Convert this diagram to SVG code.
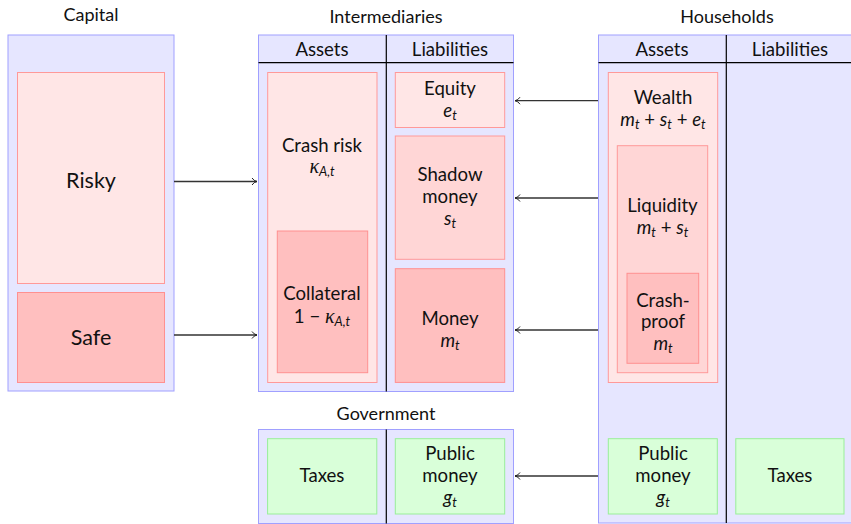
<svg xmlns="http://www.w3.org/2000/svg" width="851" height="524" viewBox="0 0 851 524">
<defs>
<style>
text{font-family:"Lato","Liberation Sans",sans-serif;font-size:18.6px;fill:#111;text-anchor:middle}
.title{font-size:18px}
.big{font-size:21.5px}
.m{font-style:italic}
.sub{font-size:13px;font-style:italic}
.k{font-family:"Liberation Serif",serif;font-style:italic;font-size:20px}
.outer{fill:#e6e6ff;stroke:#a0a0ff;stroke-width:1}
.p1{fill:#ffe6e6;stroke:#ff9999;stroke-width:1}
.p2{fill:#ffd6d6;stroke:#ff9999;stroke-width:1}
.p3{fill:#ffbfbf;stroke:#ff9090;stroke-width:1}
.g{fill:#d9ffd9;stroke:#99ee99;stroke-width:1}
.div{stroke:#000;stroke-width:1.2}
.conn line{stroke:#333;stroke-width:1.3;marker-end:url(#arr)}
</style>
<marker id="arr" markerWidth="10" markerHeight="10" refX="7" refY="5" orient="auto" markerUnits="userSpaceOnUse">
<path d="M2,1.5 Q4,4.5 7,5 Q4,5.5 2,8.5" fill="none" stroke="#222" stroke-width="1"/>
</marker>
</defs>

<g id="capital">
<text class="title" x="91" y="21">Capital</text>
<rect class="outer" x="8" y="35" width="166" height="356"/>
</g>
<g id="risky">
<rect class="p1" x="17.5" y="72.5" width="147" height="211"/>
<text class="big" x="91" y="188">Risky</text>
</g>
<g id="safe">
<rect class="p3" x="17.5" y="292.5" width="147" height="90"/>
<text class="big" x="91" y="345">Safe</text>
</g>

<g id="intermediaries">
<text class="title" x="386" y="23">Intermediaries</text>
<rect class="outer" x="258.5" y="35" width="255" height="356.5"/>
<line class="div" x1="258.5" y1="62.7" x2="513.5" y2="62.7"/>
<line class="div" x1="386.3" y1="35" x2="386.3" y2="391.5"/>
<text x="322" y="56">Assets</text>
<text x="450" y="56">Liabilities</text>
</g>
<g id="crashrisk">
<rect class="p1" x="267.7" y="72.5" width="109.3" height="310"/>
<text x="322" y="152">Crash risk</text>
<text x="322" y="173"><tspan class="k">κ</tspan><tspan class="sub" dy="3">A,t</tspan></text>
</g>
<g id="collateral">
<rect class="p3" x="277.3" y="231" width="90.4" height="141.7"/>
<text x="322" y="300">Collateral</text>
<text x="322" y="323">1&#160;−&#160;<tspan class="k">κ</tspan><tspan class="sub" dy="3">A,t</tspan></text>
</g>
<g id="equity">
<rect class="p1" x="395.3" y="72.5" width="109.4" height="55"/>
<text x="450" y="95">Equity</text>
<text x="450" y="117"><tspan class="m">e</tspan><tspan class="sub" dy="3">t</tspan></text>
</g>
<g id="shadow">
<rect class="p2" x="395.3" y="136" width="109.4" height="123.3"/>
<text x="450" y="181">Shadow</text>
<text x="450" y="203">money</text>
<text x="450" y="225"><tspan class="m">s</tspan><tspan class="sub" dy="3">t</tspan></text>
</g>
<g id="money">
<rect class="p3" x="395.3" y="268.7" width="109.4" height="113.7"/>
<text x="450" y="325">Money</text>
<text x="450" y="347"><tspan class="m">m</tspan><tspan class="sub" dy="3">t</tspan></text>
</g>

<g id="households">
<text class="title" x="727" y="23">Households</text>
<rect class="outer" x="598.5" y="35" width="262" height="488"/>
<line class="div" x1="598.5" y1="62.7" x2="851" y2="62.7"/>
<line class="div" x1="726.3" y1="35" x2="726.3" y2="523"/>
<text x="662" y="56">Assets</text>
<text x="790" y="56">Liabilities</text>
</g>
<g id="wealth">
<rect class="p1" x="608.3" y="72.5" width="109.4" height="310"/>
<text x="663" y="104">Wealth</text>
<text x="663" y="126"><tspan class="m">m</tspan><tspan class="sub" dy="3">t</tspan><tspan dy="-3">&#160;+&#160;</tspan><tspan class="m">s</tspan><tspan class="sub" dy="3">t</tspan><tspan dy="-3">&#160;+&#160;</tspan><tspan class="m">e</tspan><tspan class="sub" dy="3">t</tspan></text>
</g>
<g id="liquidity">
<rect class="p2" x="617.3" y="145.7" width="90.4" height="227"/>
<text x="662.5" y="212">Liquidity</text>
<text x="662.5" y="234"><tspan class="m">m</tspan><tspan class="sub" dy="3">t</tspan><tspan dy="-3">&#160;+&#160;</tspan><tspan class="m">s</tspan><tspan class="sub" dy="3">t</tspan></text>
</g>
<g id="crashproof">
<rect class="p3" x="627" y="273.3" width="71.7" height="90"/>
<text x="663" y="307">Crash-</text>
<text x="663" y="328">proof</text>
<text x="663" y="350"><tspan class="m">m</tspan><tspan class="sub" dy="3">t</tspan></text>
</g>
<g id="hh-public">
<rect class="g" x="608.3" y="438.7" width="109" height="75.3"/>
<text x="663" y="460">Public</text>
<text x="663" y="482">money</text>
<text x="663" y="504"><tspan class="m">g</tspan><tspan class="sub" dy="3">t</tspan></text>
</g>
<g id="hh-taxes">
<rect class="g" x="735.8" y="438.7" width="108.2" height="75.3"/>
<text x="790" y="482">Taxes</text>
</g>

<g id="government">
<text class="title" x="386" y="420">Government</text>
<rect class="outer" x="258.5" y="429.5" width="255" height="94"/>
<line class="div" x1="386.3" y1="429.5" x2="386.3" y2="523.5"/>
</g>
<g id="gov-taxes">
<rect class="g" x="267.6" y="438.7" width="109.2" height="75.3"/>
<text x="322" y="482">Taxes</text>
</g>
<g id="gov-public">
<rect class="g" x="395.3" y="438.7" width="109.4" height="75.3"/>
<text x="450" y="460">Public</text>
<text x="450" y="482">money</text>
<text x="450" y="504"><tspan class="m">g</tspan><tspan class="sub" dy="3">t</tspan></text>
</g>

<g id="connectors" class="conn">
<line x1="174" y1="181.5" x2="257" y2="181.5"/>
<line x1="174" y1="335" x2="257" y2="335"/>
<line x1="598" y1="100.7" x2="515" y2="100.7"/>
<line x1="598" y1="198" x2="515" y2="198"/>
<line x1="598" y1="330" x2="515" y2="330"/>
<line x1="598" y1="476" x2="515" y2="476"/>
</g>
</svg>
